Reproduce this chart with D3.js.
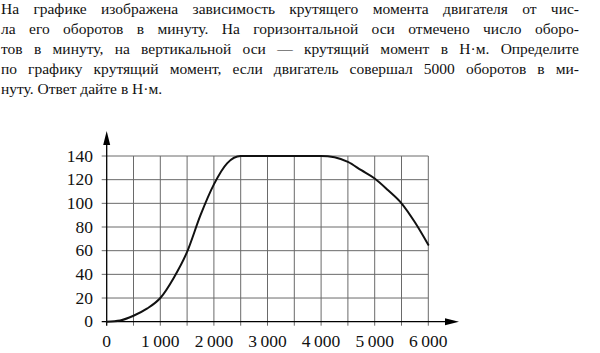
<!DOCTYPE html>
<html>
<head>
<meta charset="utf-8">
<script src="https://cdn.jsdelivr.net/npm/d3@7"></script>
</head>
<body style="margin:0">
<script>
// task text, one entry per printed line
const textLines = [
  "На графике изображена зависимость крутящего момента двигателя от чис-",
  "ла его оборотов в минуту. На горизонтальной оси отмечено число оборо-",
  "тов в минуту, на вертикальной оси — крутящий момент в Н·м. Определите",
  "по графику крутящий момент, если двигатель совершал 5000 оборотов в ми-",
  "нуту. Ответ дайте в Н·м."
];

// curve
const rpm = [0, 250, 500, 750, 1000, 1250, 1500, 1750, 2000, 2250, 2500, 3000, 3500, 4000, 4250, 4500, 4750, 5000, 5250, 5500, 5750, 6000];
const torque = [0, 1, 5, 11, 20, 37, 59, 90, 116, 134, 140, 140, 140, 140, 139, 135, 128, 121, 111, 100, 84, 65];

const xTicks = [0, 1000, 2000, 3000, 4000, 5000, 6000];
const yTicks = [0, 20, 40, 60, 80, 100, 120, 140];
const xGrid = d3.range(500, 6001, 500);
const yGrid = d3.range(20, 141, 20);

const W = 600, H = 353;
const FONT = "'Liberation Serif', 'Times New Roman', 'DejaVu Serif', 'Noto Serif', serif";
const svg = d3.select("body").append("svg")
  .attr("width", W).attr("height", H)
  .style("display", "block");

// justified paragraph (word spacing stretched to the right margin)
const para = svg.append("g").attr("fill", "#111");
const textLeft = 1, textRight = 579;

textLines.forEach((line, i) => {
  const t = para.append("text")
    .attr("x", textLeft)
    .attr("y", 13.5 + i * 20)
    .attr("font-size", 15.5)
    .style("font-family", FONT)
    .text(line);
  if (i < textLines.length - 1) {
    const natural = t.node().getComputedTextLength();
    const spaces = line.split(" ").length - 1;
    t.attr("word-spacing", (textRight - textLeft - natural) / spaces);
  }
});

const x = d3.scaleLinear().domain([0, 6000]).range([106.7, 428.3]);
const y = d3.scaleLinear().domain([0, 140]).range([321.7, 156]);

const chart = svg.append("g");

// grid
chart.append("g")
  .attr("stroke", "#6a6a6a")
  .attr("stroke-width", 1)
  .selectAll("line")
  .data(xGrid)
  .join("line")
  .attr("x1", d => x(d)).attr("x2", d => x(d))
  .attr("y1", y(0) + 4).attr("y2", y(140));

chart.append("g")
  .attr("stroke", "#6a6a6a")
  .attr("stroke-width", 1)
  .selectAll("line")
  .data(yGrid)
  .join("line")
  .attr("x1", x(0) - 5).attr("x2", x(6000))
  .attr("y1", d => y(d)).attr("y2", d => y(d));

// axes with arrows
const axisG = chart.append("g").attr("stroke", "#000").attr("stroke-width", 1.3);
axisG.append("line")
  .attr("x1", x(0) - 5).attr("x2", 448)
  .attr("y1", y(0)).attr("y2", y(0));
axisG.append("line")
  .attr("x1", x(0)).attr("x2", x(0))
  .attr("y1", y(0) + 4).attr("y2", 142);

chart.append("path")
  .attr("d", `M459,${y(0)} L445,${y(0) - 3.5} L445,${y(0) + 3.5} Z`)
  .attr("fill", "#000");
chart.append("path")
  .attr("d", `M${x(0)},131 L${x(0) - 3.5},145 L${x(0) + 3.5},145 Z`)
  .attr("fill", "#000");

// tick labels
const labels = chart.append("g").attr("fill", "#111");

labels.selectAll("text.y")
  .data(yTicks)
  .join("text")
  .attr("class", "y")
  .attr("x", 93)
  .attr("y", d => y(d) + 5.5)
  .attr("text-anchor", "end")
  .attr("font-size", 17.5)
  .style("font-family", FONT)
  .text(d => d);

labels.selectAll("text.x")
  .data(xTicks)
  .join("text")
  .attr("class", "x")
  .attr("x", d => x(d))
  .attr("y", 347)
  .attr("text-anchor", "middle")
  .attr("font-size", 17.5)
  .style("font-family", FONT)
  .text(d => d >= 1000 ? Math.floor(d / 1000) + "\u2009000" : d);

// torque curve
const pts = rpm.map((r, i) => [r, torque[i]]);
const line = d3.line()
  .x(d => x(d[0]))
  .y(d => y(d[1]))
  .curve(d3.curveMonotoneX);

chart.append("path")
  .datum(pts)
  .attr("fill", "none")
  .attr("stroke", "#111")
  .attr("stroke-width", 2)
  .attr("stroke-linecap", "round")
  .attr("d", line);
</script>
</body>
</html>
